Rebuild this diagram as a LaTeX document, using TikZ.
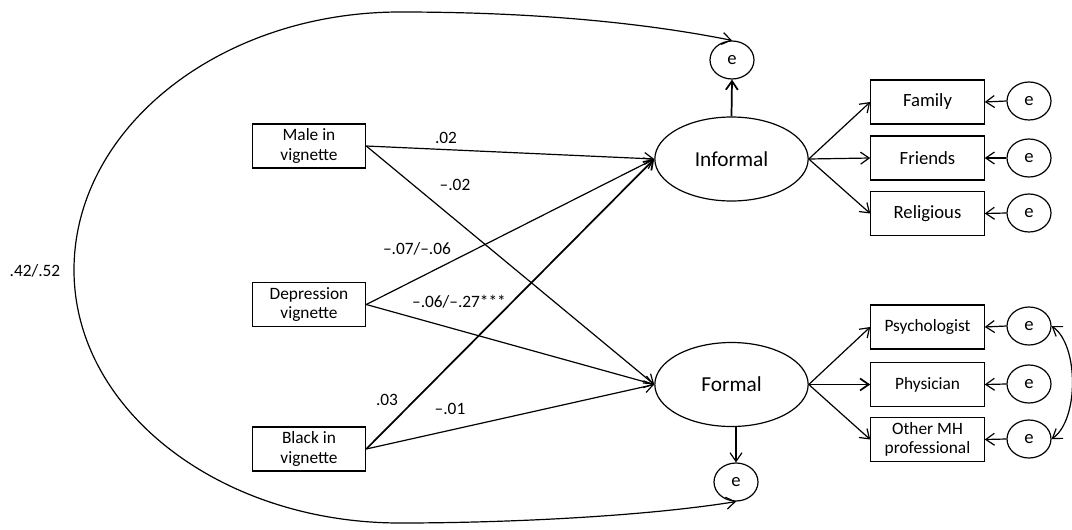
\documentclass[tikz,border=0pt]{standalone}
\usepackage{fontspec}
\setmainfont{Carlito}
\usetikzlibrary{arrows.meta,shapes.geometric}
\begin{document}
\begin{tikzpicture}[x=0.75pt,y=-0.75pt,
 conn/.style={line width=0.9pt,-{Straight Barb[length=6.5pt,width=9pt]}},
 bconn/.style={line width=0.9pt,{Straight Barb[length=6.5pt,width=9pt]}-{Straight Barb[length=6.5pt,width=9pt]}},
 thick conn/.style={conn,line width=1.3pt},
 box/.style={draw,line width=0.9pt,minimum width=85pt,minimum height=33pt,align=center,inner sep=1pt,font=\fontsize{13}{14.5}\selectfont},
 rbox/.style={box,font=\fontsize{14}{15}\selectfont},
 lat/.style={draw,ellipse,line width=0.9pt,minimum width=115pt,minimum height=63pt,font=\fontsize{16}{18}\selectfont},
 err/.style={draw,ellipse,line width=0.9pt,minimum width=33pt,minimum height=28.5pt,inner sep=0pt,font=\fontsize{14}{16}\selectfont},
 lab/.style={font=\fontsize{13}{15}\selectfont,inner sep=0pt}]
\useasboundingbox (0,0) rectangle (1072,529);
% exogenous
\node[box] (male) at (309,146) {Male in\\vignette};
\node[box] (dep) at (309,304.5) {Depression\\vignette};
\node[box] (blk) at (309,449) {Black in\\vignette};
% latents
\node[lat] (inf) at (731.5,159) {Informal};
\node[lat] (for) at (731.5,384.5) {Formal};
\node[err] (eI) at (732,60) {e};
\node[err] (eF) at (736,482) {e};
% indicators
\node[rbox] (fam) at (927.5,102) {Family};
\node[rbox] (fri) at (927.5,158) {Friends};
\node[rbox] (rel) at (927.5,213.5) {Religious};
\node[box] (psy) at (927.5,327) {Psychologist};
\node[box] (phy) at (927.5,384.5) {Physician};
\node[box] (oth) at (927.5,439.5) {Other MH\\professional};
\node[err] (e1) at (1029,101) {e};
\node[err] (e2) at (1029,158) {e};
\node[err] (e3) at (1029,213) {e};
\node[err] (e4) at (1029,326) {e};
\node[err] (e5) at (1029,384) {e};
\node[err] (e6) at (1029,439) {e};
% structural paths
\draw[conn] (male.east) -- (inf.west);
\draw[conn] (male.east) -- (for.west);
\draw[conn] (dep.east) -- (inf.west);
\draw[conn] (dep.east) -- (for.west);
\draw[thick conn] (blk.east) -- (inf.west);
\draw[conn] (blk.east) -- (for.west);
\draw[thick conn] (inf.north) -- (eI.south);
\draw[conn] (eF.north |- for.south) -- (eF.north);
% measurement
\draw[conn] (inf.east) -- (fam.west);
\draw[conn] (inf.east) -- (fri.west);
\draw[conn] (inf.east) -- (rel.west);
\draw[conn] (for.east) -- (psy.west);
\draw[thick conn] (for.east) -- (phy.west);
\draw[conn] (for.east) -- (oth.west);
\draw[conn] (e1.west) -- (fam.east);
\draw[conn] (e2.west) -- (fri.east);
\draw[conn] (e3.west) -- (rel.east);
\draw[conn] (e4.west) -- (psy.east);
\draw[conn] (e5.west) -- (phy.east);
\draw[conn] (e6.west) -- (oth.east);
% covariances
\draw[bconn] (e4.east) .. controls (1079,345) and (1079,420) .. (e6.east);
\draw[bconn] (eI.north) .. controls (620,18) and (500,12) .. (400,12)
  .. controls (220,12) and (74,128) .. (74,270)
  .. controls (74,410) and (220,523) .. (400,523)
  .. controls (500,523) and (640,517) .. (eF.south);
% labels
\node[lab] (l1) at (446,138) {.02};
\node[lab] (l2) at (455,185) {–.02};
\node[lab] (l3) at (417,249) {–.07/–.06};
\node[lab] (l4) at (459,302) {–.06/–.27***};
\node[lab] (l5) at (387,400) {.03};
\node[lab] (l6) at (450,409) {–.01};
\node[lab] (l7) at (35,271) {.42/.52};
\end{tikzpicture}
\end{document}
